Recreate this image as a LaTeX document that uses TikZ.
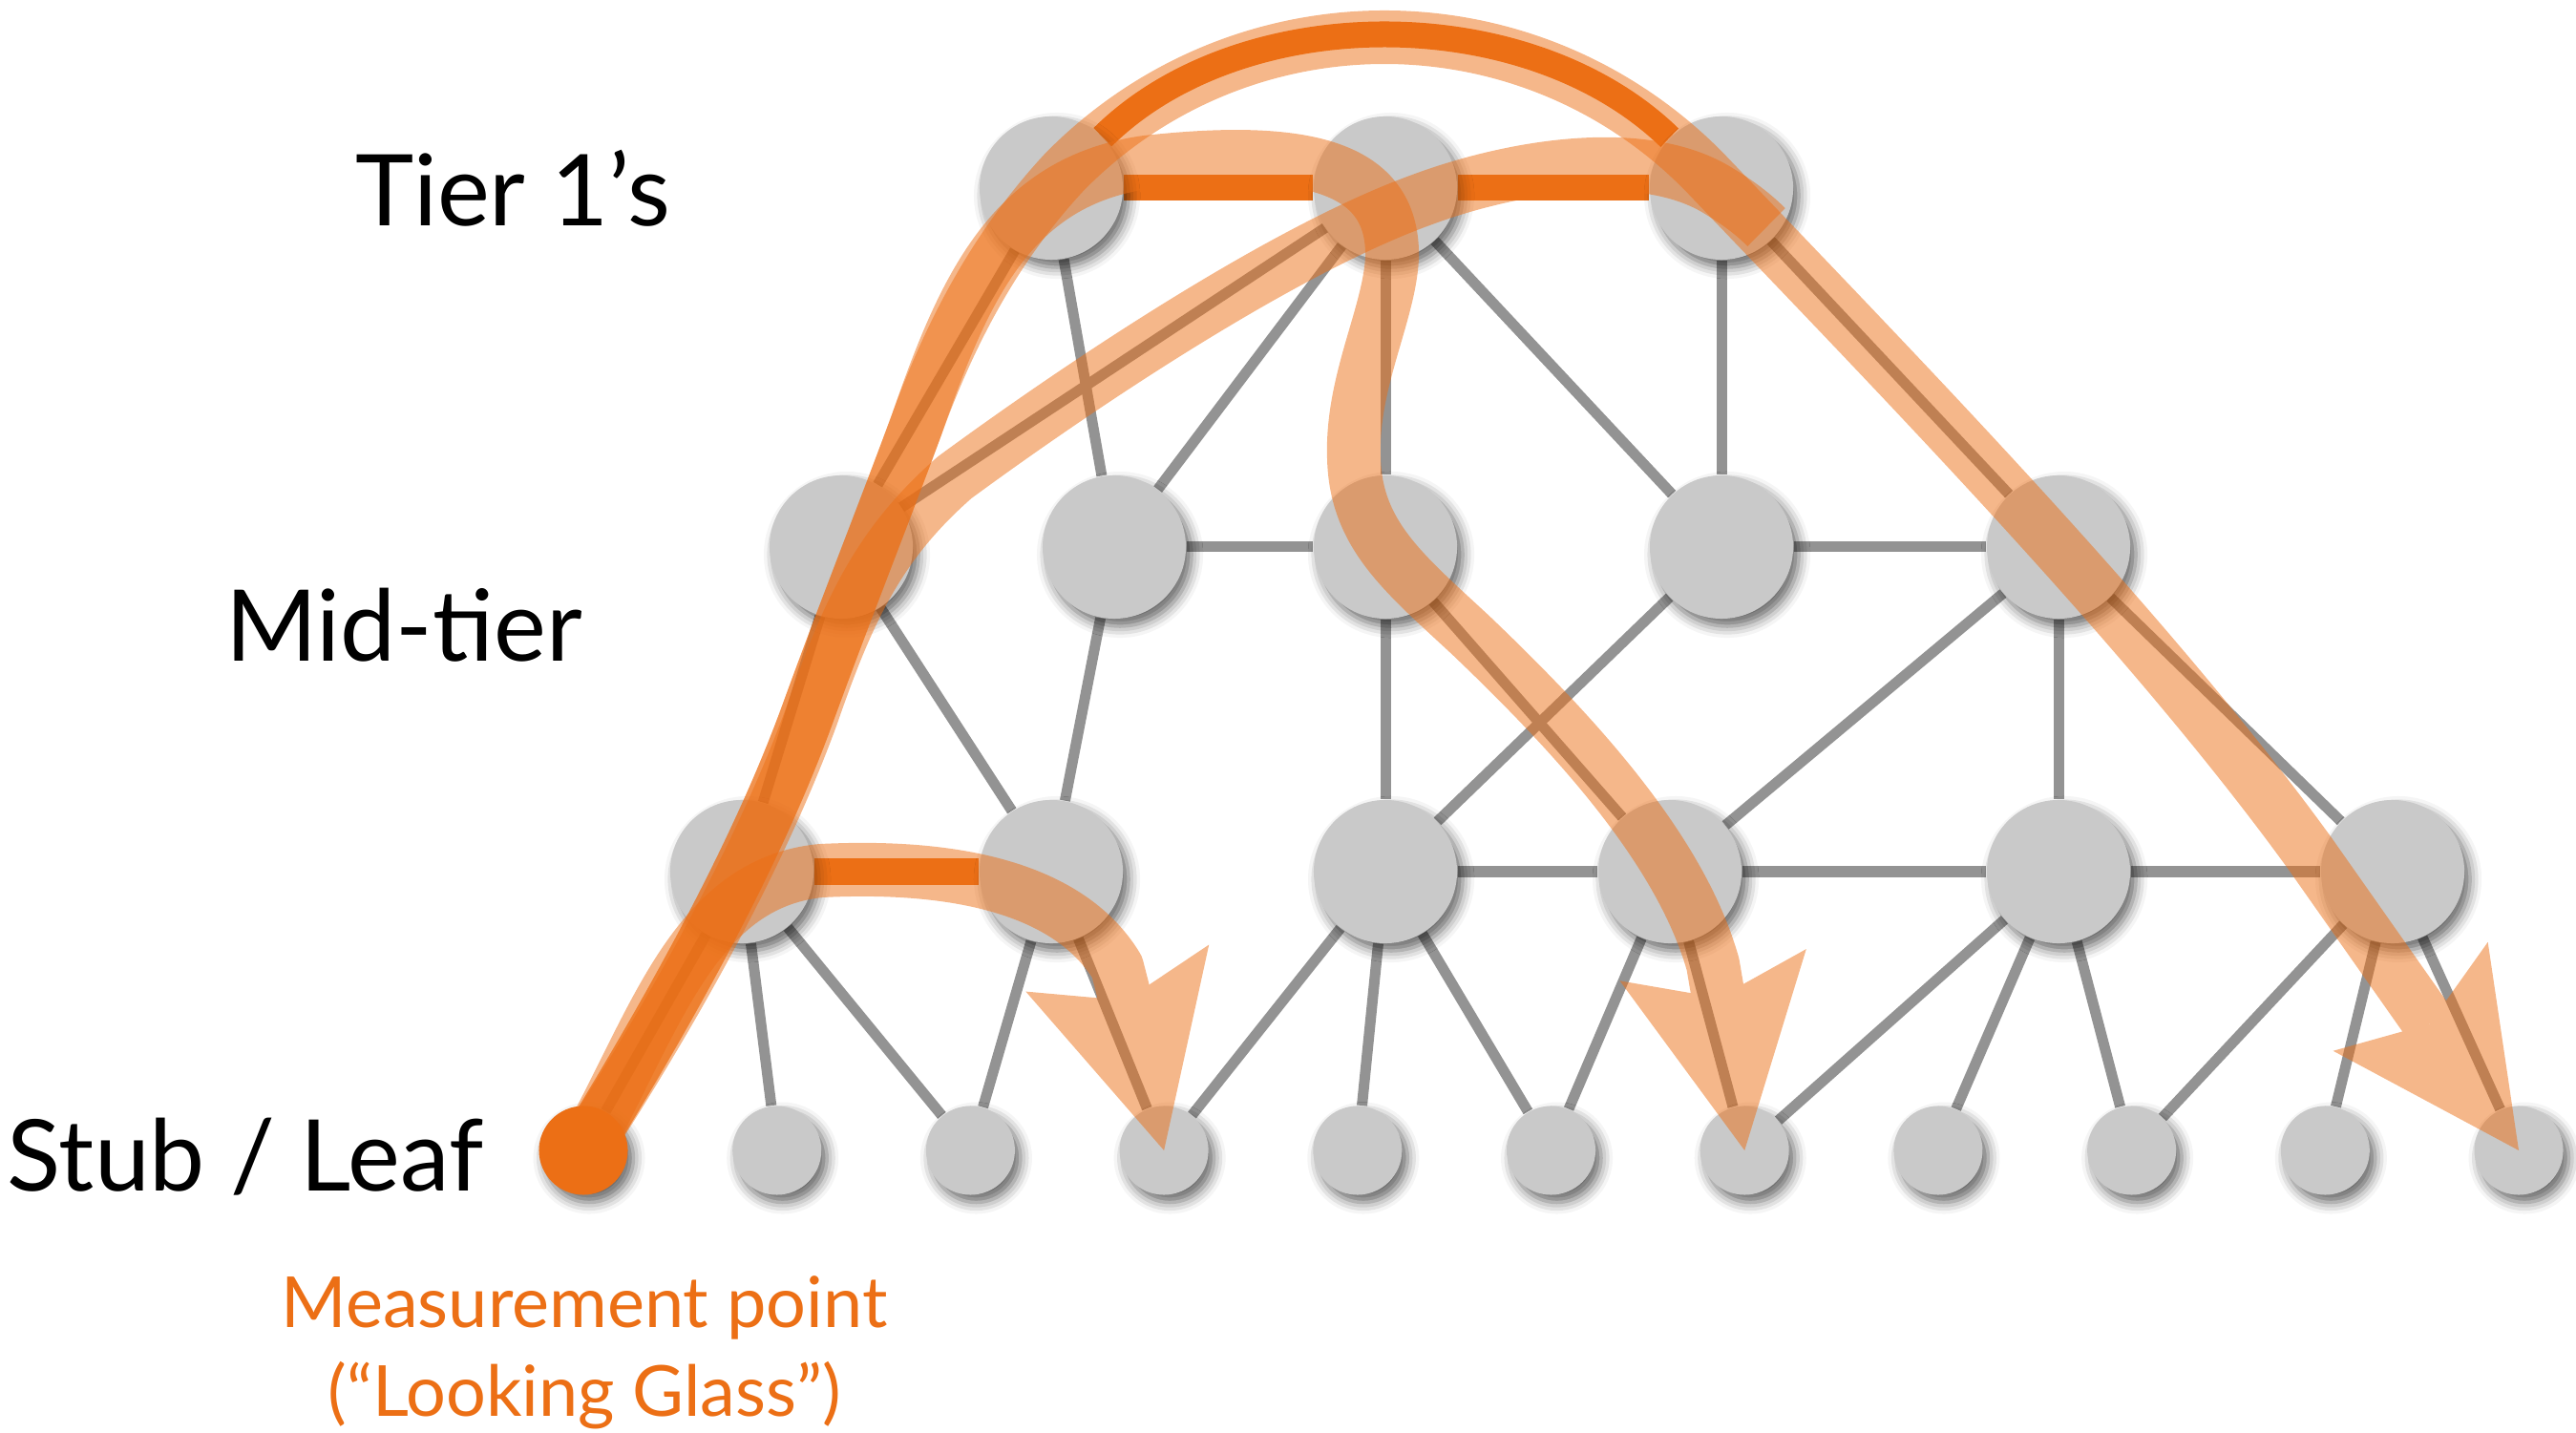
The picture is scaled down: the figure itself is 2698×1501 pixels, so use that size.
\documentclass[tikz,border=0pt]{standalone}
\usepackage{fontspec}
\setmainfont{Lato}
\usetikzlibrary{arrows.meta, shadows.blur, backgrounds}

\definecolor{nodegray}{HTML}{C9C9C9}
\definecolor{wiregray}{HTML}{939393}
\definecolor{hot}{HTML}{EC6F15}

\begin{document}
\begin{tikzpicture}[x = 0.01cm, y = -0.01cm,
    router/.style = {shape = circle, fill = nodegray, minimum size = 1.5cm, inner sep = 0pt,
        blur shadow = {shadow xshift = 0.06cm, shadow yshift = -0.08cm,
            shadow blur radius = 0.12cm, shadow opacity = 60}},
    leaf/.style = {router, minimum size = 0.93cm},
    link/.style = {draw = wiregray, line width = 0.11cm},
    hotlink/.style = {draw = hot, line width = 0.27cm},
    band/.style = {draw = hot, line width = 0.56cm, line join = round},
    route/.style = {band, -{Stealth[length = 1.97cm, width = 1.98cm, inset = 0.35cm, line width = 0pt]}},
    tier/.style = {anchor = base, font = \fontsize{29.5}{30}\selectfont},
    note/.style = {anchor = base, text = hot, font = \fontsize{21}{26}\selectfont}]
    \useasboundingbox (0,0) rectangle (2698,1501);

    % tier 1
    \node[router] (t1) at (1101,197) {};
    \node[router] (t2) at (1451,197) {};
    \node[router] (t3) at (1803,197) {};
    % mid tier, two rows
    \node[router] (m1) at (881,573) {};
    \node[router] (m2) at (1167,573) {};
    \node[router] (m3) at (1451,573) {};
    \node[router] (m4) at (1803,573) {};
    \node[router] (m5) at (2156,573) {};
    \node[router] (r1) at (777,913) {};
    \node[router] (r2) at (1101,913) {};
    \node[router] (r3) at (1451,913) {};
    \node[router] (r4) at (1749,913) {};
    \node[router] (r5) at (2156,913) {};
    \node[router] (r6) at (2506,913) {};
    % stubs
    \node[leaf, fill = hot] (l0) at (611,1205) {};
    \foreach \i in {1,...,10}
        \node[leaf] (l\i) at ({611 + 202.7*\i},1205) {};

    \begin{scope}[on background layer]
        \foreach \a/\b in {t1/m1, t1/m2, t2/m1, t2/m2, t2/m3, t2/m4, t3/m4, t3/m5,
                m2/m3, m4/m5, m1/r1, m1/r2, m2/r2, m3/r3, m3/r4, m4/r3, m5/r4, m5/r5, m5/r6,
                r3/r4, r4/r5, r5/r6, r1/l0, r1/l1, r1/l2, r2/l2, r2/l3, r3/l3, r3/l4, r3/l5,
                r4/l5, r4/l6, r5/l6, r5/l7, r5/l8, r6/l8, r6/l9, r6/l10}
            \draw[link] (\a) -- (\b);
        \draw[hotlink] (t1) -- (t2);
        \draw[hotlink] (t2) -- (t3);
        \draw[hotlink] (t1) .. controls (1300,0) and (1600,0) .. (t3);
        \draw[hotlink] (r1) -- (r2);
    \end{scope}

    % paths seen from the looking glass
    \begin{scope}[transparency group, opacity = 0.5]
        \draw[route] (l0.center) .. controls (685,1075) and (725,925) .. (860,912)
            .. controls (1000,905) and (1120,930) .. (1170,1013) -- (l3.center);
    \end{scope}
    \begin{scope}[transparency group, opacity = 0.5]
        \draw[route] (l0.center) .. controls (700,1060) and (790,900) .. (845,750)
            .. controls (885,640) and (925,540) .. (960,445)
            .. controls (1010,300) and (1060,190) .. (1200,170)
            .. controls (1380,150) and (1460,180) .. (1458,270)
            .. controls (1455,330) and (1415,400) .. (1418,480)
            .. controls (1420,560) and (1470,600) .. (1540,665)
            .. controls (1650,770) and (1760,890) .. (1794,1010) -- (l6.center);
    \end{scope}
    \begin{scope}[transparency group, opacity = 0.5]
        \draw[band] (l0.center) .. controls (705,1060) and (795,900) .. (850,750)
            .. controls (888,640) and (920,570) .. (1000,500)
            .. controls (1150,390) and (1350,260) .. (1487,210)
            .. controls (1580,175) and (1720,150) .. (1800,200)
            .. controls (1825,215) and (1840,228) .. (1850,238);
    \end{scope}
    \begin{scope}[transparency group, opacity = 0.5]
        \draw[route] (l0.center) .. controls (700,1060) and (790,900) .. (845,750)
            .. controls (885,640) and (925,540) .. (960,445)
            .. controls (1000,335) and (1050,250) .. (1115,180)
            .. controls (1300,-8) and (1600,-8) .. (1785,180)
            .. controls (1990,395) and (2250,660) .. (2420,895) -- (l10.center);
    \end{scope}

    \node[tier] (tierone) at (537,237) {Tier 1’s};
    \node[tier] (midtier) at (423,693) {Mid-tier};
    \node[tier] (stub) at (257,1247) {Stub / Leaf};
    \node[note] (measure) at (612,1390) {Measurement point};
    \node[note] (glass) at (612,1483) {(“Looking Glass”)};
\end{tikzpicture}
\end{document}
